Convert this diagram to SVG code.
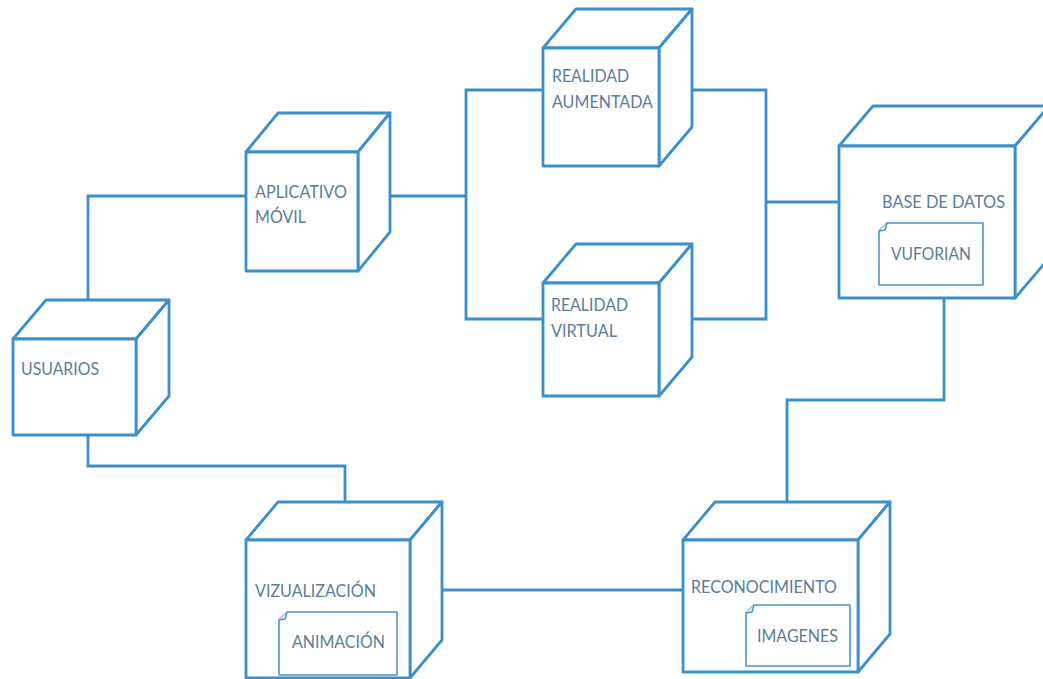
<svg xmlns="http://www.w3.org/2000/svg" width="1043" height="679" viewBox="0 0 1043 679">
  <style>
    .edge { fill: #ffffff; stroke: #3b8fcb; stroke-width: 2.8; stroke-linejoin: round; }
    .wire { fill: none; stroke: #3b8fcb; stroke-width: 2.8; }
    .doc  { fill: #ffffff; stroke: #4e94c8; stroke-width: 1.6; stroke-linejoin: round; }
    .lbl  { font-family: Lato, "Open Sans", "Liberation Sans", sans-serif; font-size: 18px; fill: #5b7d99; }
  </style>
  <rect x="0" y="0" width="1043" height="679" fill="#ffffff"/>

  <!-- connectors -->
  <g id="connectors">
    <polyline class="wire" points="88,339 88,196 246,196"/>
    <polyline class="wire" points="88,435 88,466 345,466 345,502"/>
    <polyline class="wire" points="389,196 466,196"/>
    <polyline class="wire" points="543,90 466,90 466,319 543,319"/>
    <polyline class="wire" points="692,90 766,90 766,319 692,319"/>
    <polyline class="wire" points="766,202 839,202"/>
    <polyline class="wire" points="944,298 944,400 787,400 787,502"/>
    <polyline class="wire" points="442,590 683,590"/>
  </g>

  <!-- USUARIOS -->
  <g id="usuarios">
    <path class="edge" d="M13,339 L46,300 L169,300 L136,339 Z"/>
    <path class="edge" d="M136,339 L169,300 L169,396 L136,435 Z"/>
    <rect class="edge" x="13" y="339" width="123" height="96"/>
    <text class="lbl" x="21" y="375" textLength="78" lengthAdjust="spacingAndGlyphs">USUARIOS</text>
  </g>

  <!-- APLICATIVO MÓVIL -->
  <g id="aplicativo-movil">
    <path class="edge" d="M246,152 L278,113 L390,113 L358,152 Z"/>
    <path class="edge" d="M358,152 L390,113 L390,232 L358,271 Z"/>
    <rect class="edge" x="246" y="152" width="112" height="119"/>
    <text class="lbl" x="255" y="198" textLength="92" lengthAdjust="spacingAndGlyphs">APLICATIVO</text>
    <text class="lbl" x="255" y="223" textLength="51" lengthAdjust="spacingAndGlyphs">MÓVIL</text>
  </g>

  <!-- REALIDAD AUMENTADA -->
  <g id="realidad-aumentada">
    <path class="edge" d="M543,48 L576,9 L692,9 L659,48 Z"/>
    <path class="edge" d="M659,48 L692,9 L692,127 L659,166 Z"/>
    <rect class="edge" x="543" y="48" width="116" height="118"/>
    <text class="lbl" x="552" y="82" textLength="77" lengthAdjust="spacingAndGlyphs">REALIDAD</text>
    <text class="lbl" x="552" y="108" textLength="101" lengthAdjust="spacingAndGlyphs">AUMENTADA</text>
  </g>

  <!-- REALIDAD VIRTUAL -->
  <g id="realidad-virtual">
    <path class="edge" d="M543,283 L576,244 L692,244 L659,283 Z"/>
    <path class="edge" d="M659,283 L692,244 L692,357 L659,396 Z"/>
    <rect class="edge" x="543" y="283" width="116" height="113"/>
    <text class="lbl" x="551" y="311" textLength="77" lengthAdjust="spacingAndGlyphs">REALIDAD</text>
    <text class="lbl" x="551" y="337" textLength="66" lengthAdjust="spacingAndGlyphs">VIRTUAL</text>
  </g>

  <!-- BASE DE DATOS -->
  <g id="base-de-datos">
    <path class="edge" d="M839,146 L873,106 L1049,106 L1015,146 Z"/>
    <path class="edge" d="M1015,146 L1049,106 L1049,258 L1015,298 Z"/>
    <rect class="edge" x="839" y="146" width="176" height="152"/>
    <text class="lbl" x="882" y="208" textLength="123" lengthAdjust="spacingAndGlyphs">BASE DE DATOS</text>
    <g id="vuforian">
      <path class="doc" d="M879,231 L887,223 L983,223 L983,285 L879,285 Z"/>
      <path class="doc" d="M879,231 L885,230 L887,223"/>
      <text class="lbl" x="891" y="260" textLength="80" lengthAdjust="spacingAndGlyphs">VUFORIAN</text>
    </g>
  </g>

  <!-- VIZUALIZACIÓN -->
  <g id="vizualizacion">
    <path class="edge" d="M246,540 L278,502 L442,502 L410,540 Z"/>
    <path class="edge" d="M410,540 L442,502 L442,640 L410,678 Z"/>
    <rect class="edge" x="246" y="540" width="164" height="138"/>
    <text class="lbl" x="255" y="597" textLength="121" lengthAdjust="spacingAndGlyphs">VIZUALIZACIÓN</text>
    <g id="animacion">
      <path class="doc" d="M279,620 L287,612 L397,612 L397,675 L279,675 Z"/>
      <path class="doc" d="M279,620 L285,619 L287,612"/>
      <text class="lbl" x="292" y="648" textLength="93" lengthAdjust="spacingAndGlyphs">ANIMACIÓN</text>
    </g>
  </g>

  <!-- RECONOCIMIENTO -->
  <g id="reconocimiento">
    <path class="edge" d="M683,540 L715,502 L890,502 L858,540 Z"/>
    <path class="edge" d="M858,540 L890,502 L890,634 L858,672 Z"/>
    <rect class="edge" x="683" y="540" width="175" height="132"/>
    <text class="lbl" x="691" y="593" textLength="146" lengthAdjust="spacingAndGlyphs">RECONOCIMIENTO</text>
    <g id="imagenes">
      <path class="doc" d="M746,613 L754,605 L850,605 L850,666 L746,666 Z"/>
      <path class="doc" d="M746,613 L752,612 L754,605"/>
      <text class="lbl" x="757" y="642" textLength="81" lengthAdjust="spacingAndGlyphs">IMAGENES</text>
    </g>
  </g>
</svg>
